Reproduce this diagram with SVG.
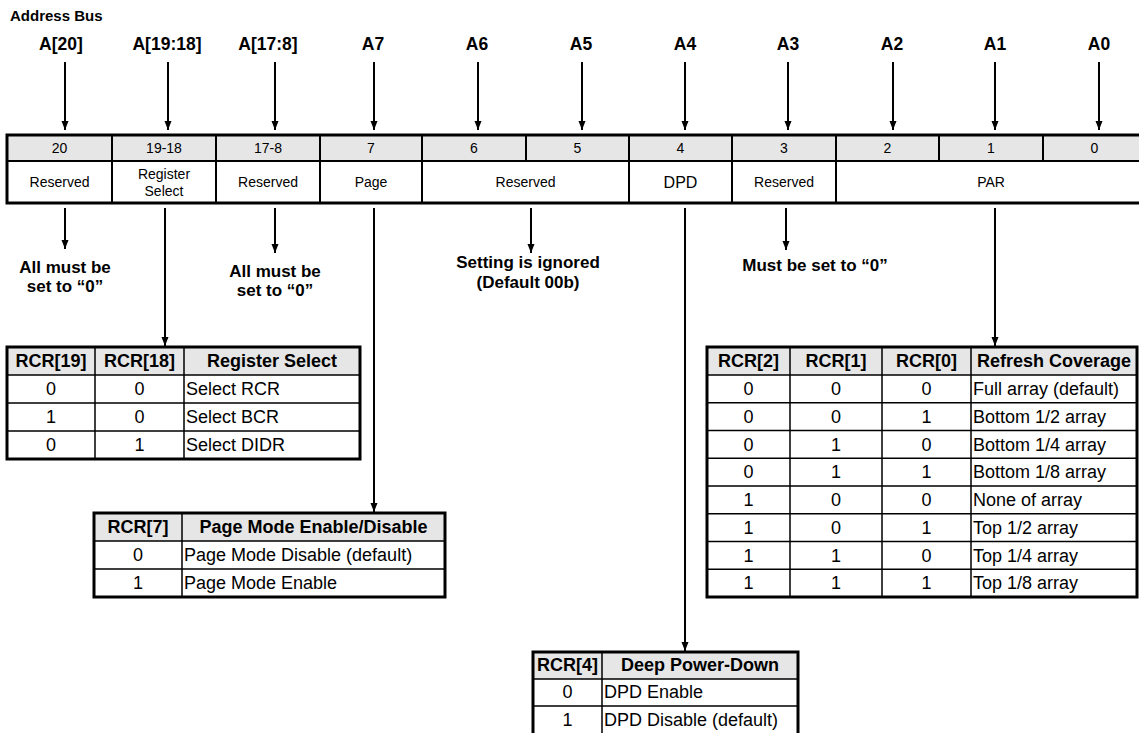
<svg xmlns="http://www.w3.org/2000/svg" width="1139" height="733" viewBox="0 0 1139 733">
<defs>
<marker id="ah" markerUnits="userSpaceOnUse" markerWidth="10" markerHeight="8" refX="9" refY="3.5" orient="auto">
<path d="M0,0 L9,3.5 L0,7 z" fill="#000"/>
</marker>
<style>
text{font-family:"Liberation Sans",Arial,sans-serif;fill:#000}
.lbl{font-size:17.5px;font-weight:bold;text-anchor:middle}
.title{font-size:15px;font-weight:bold}
.reg{font-size:14px;text-anchor:middle}
.note{font-size:17px;font-weight:bold;text-anchor:middle}
.th{font-size:18px;font-weight:bold;text-anchor:middle}
.td{font-size:18px;text-anchor:middle}
.tl{font-size:18px}
.hdr{fill:#e6e6e6}
.outer{fill:none;stroke:#000;stroke-width:3}
.inner{stroke:#000;stroke-width:1.5;fill:none}
.regl{stroke:#000;stroke-width:2;fill:none}
.arr{stroke:#000;stroke-width:2;fill:none;marker-end:url(#ah)}
</style>
</defs>
<rect width="1139" height="733" fill="#fff"/>

<g id="title"><text class="title" x="10" y="21">Address Bus</text></g>

<g id="bus-labels">
<text class="lbl" x="61" y="50">A[20]</text>
<text class="lbl" x="167" y="50">A[19:18]</text>
<text class="lbl" x="268" y="50">A[17:8]</text>
<text class="lbl" x="373" y="50">A7</text>
<text class="lbl" x="477" y="50">A6</text>
<text class="lbl" x="581" y="50">A5</text>
<text class="lbl" x="685" y="50">A4</text>
<text class="lbl" x="788" y="50">A3</text>
<text class="lbl" x="892" y="50">A2</text>
<text class="lbl" x="995" y="50">A1</text>
<text class="lbl" x="1099" y="50">A0</text>
</g>

<g id="register">
<rect class="hdr" x="7" y="135" width="1139" height="26"/>
<line class="regl" x1="7" y1="161" x2="1146" y2="161"/>
<path class="regl" d="M112,135V203 M216,135V203 M320,135V203 M422,135V203 M526,135V161 M629,135V203 M732,135V203 M836,135V203 M939,135V161 M1043,135V161"/>
<rect class="outer" x="7" y="135" width="1139" height="68"/>
<text class="reg" x="59.5" y="153">20</text>
<text class="reg" x="164" y="153">19-18</text>
<text class="reg" x="268" y="153">17-8</text>
<text class="reg" x="371" y="153">7</text>
<text class="reg" x="474" y="153">6</text>
<text class="reg" x="577.5" y="153">5</text>
<text class="reg" x="680.5" y="153">4</text>
<text class="reg" x="784" y="153">3</text>
<text class="reg" x="887.5" y="153">2</text>
<text class="reg" x="991" y="153">1</text>
<text class="reg" x="1094.5" y="153">0</text>
<text class="reg" x="59.5" y="187">Reserved</text>
<text class="reg" x="164" y="179">Register</text>
<text class="reg" x="164" y="196">Select</text>
<text class="reg" x="268" y="187">Reserved</text>
<text class="reg" x="371" y="187">Page</text>
<text class="reg" x="525.5" y="187">Reserved</text>
<text class="reg" x="680.5" y="188" style="font-size:16px">DPD</text>
<text class="reg" x="784" y="187">Reserved</text>
<text class="reg" x="991" y="187">PAR</text>
</g>

<g id="connectors">
<line class="arr" x1="65" y1="62" x2="65" y2="130"/>
<line class="arr" x1="168" y1="62" x2="168" y2="130"/>
<line class="arr" x1="275" y1="62" x2="275" y2="130"/>
<line class="arr" x1="374" y1="62" x2="374" y2="130"/>
<line class="arr" x1="478" y1="62" x2="478" y2="130"/>
<line class="arr" x1="582" y1="62" x2="582" y2="130"/>
<line class="arr" x1="685" y1="62" x2="685" y2="130"/>
<line class="arr" x1="788" y1="62" x2="788" y2="130"/>
<line class="arr" x1="893" y1="62" x2="893" y2="130"/>
<line class="arr" x1="995" y1="62" x2="995" y2="130"/>
<line class="arr" x1="1099" y1="62" x2="1099" y2="130"/>
<line class="arr" x1="65" y1="208" x2="65" y2="249"/>
<line class="arr" x1="165" y1="208" x2="165" y2="346"/>
<line class="arr" x1="275" y1="208" x2="275" y2="253"/>
<line class="arr" x1="374" y1="208" x2="374" y2="512"/>
<line class="arr" x1="531" y1="208" x2="531" y2="253"/>
<line class="arr" x1="685" y1="208" x2="685" y2="651"/>
<line class="arr" x1="786" y1="208" x2="786" y2="250"/>
<line class="arr" x1="995" y1="208" x2="995" y2="346"/>
</g>

<g id="note-a20">
<text class="note" x="65" y="273">All must be</text>
<text class="note" x="65" y="292">set to “0”</text>
</g>
<g id="note-a17-8">
<text class="note" x="275" y="277">All must be</text>
<text class="note" x="275" y="296">set to “0”</text>
</g>
<g id="note-a6-5">
<text class="note" x="528" y="268">Setting is ignored</text>
<text class="note" x="528" y="288">(Default 00b)</text>
</g>
<g id="note-a3">
<text class="note" x="815" y="271">Must be set to “0”</text>
</g>

<g id="table-register-select">
<rect class="hdr" x="7" y="347" width="353" height="28"/>
<path class="inner" d="M7,375H360 M7,403H360 M7,431H360 M95,347V459 M184,347V459"/>
<rect class="outer" x="7" y="347" width="353" height="112"/>
<text class="th" x="51" y="367">RCR[19]</text>
<text class="th" x="139.5" y="367">RCR[18]</text>
<text class="th" x="272" y="367">Register Select</text>
<text class="td" x="51" y="395">0</text><text class="td" x="139.5" y="395">0</text><text class="tl" x="186" y="395">Select RCR</text>
<text class="td" x="51" y="423">1</text><text class="td" x="139.5" y="423">0</text><text class="tl" x="186" y="423">Select BCR</text>
<text class="td" x="51" y="451">0</text><text class="td" x="139.5" y="451">1</text><text class="tl" x="186" y="451">Select DIDR</text>
</g>

<g id="table-page-mode">
<rect class="hdr" x="94" y="513" width="351" height="28"/>
<path class="inner" d="M94,541H445 M94,569H445 M182,513V597"/>
<rect class="outer" x="94" y="513" width="351" height="84"/>
<text class="th" x="138" y="533">RCR[7]</text>
<text class="th" x="313.5" y="533">Page Mode Enable/Disable</text>
<text class="td" x="138" y="561">0</text><text class="tl" x="184" y="561">Page Mode Disable (default)</text>
<text class="td" x="138" y="589">1</text><text class="tl" x="184" y="589">Page Mode Enable</text>
</g>

<g id="table-deep-power-down">
<rect class="hdr" x="533" y="652" width="265" height="27"/>
<path class="inner" d="M533,679H798 M533,706H798 M602,652V735"/>
<rect class="outer" x="533" y="652" width="265" height="83"/>
<text class="th" x="567.5" y="671">RCR[4]</text>
<text class="th" x="700" y="671">Deep Power-Down</text>
<text class="td" x="567.5" y="698">0</text><text class="tl" x="604" y="698">DPD Enable</text>
<text class="td" x="567.5" y="726">1</text><text class="tl" x="604" y="726">DPD Disable (default)</text>
</g>

<g id="table-refresh-coverage">
<rect class="hdr" x="707" y="347" width="430" height="28"/>
<path class="inner" d="M707,375H1137 M707,402.75H1137 M707,430.5H1137 M707,458.25H1137 M707,486H1137 M707,513.75H1137 M707,541.5H1137 M707,569.25H1137 M790,347V597 M882,347V597 M971,347V597"/>
<rect class="outer" x="707" y="347" width="430" height="250"/>
<text class="th" x="748.5" y="367">RCR[2]</text>
<text class="th" x="836" y="367">RCR[1]</text>
<text class="th" x="926.5" y="367">RCR[0]</text>
<text class="th" x="1054" y="367">Refresh Coverage</text>
<text class="td" x="748.5" y="395">0</text><text class="td" x="836" y="395">0</text><text class="td" x="926.5" y="395">0</text><text class="tl" x="973" y="395">Full array (default)</text>
<text class="td" x="748.5" y="422.75">0</text><text class="td" x="836" y="422.75">0</text><text class="td" x="926.5" y="422.75">1</text><text class="tl" x="973" y="422.75">Bottom 1/2 array</text>
<text class="td" x="748.5" y="450.5">0</text><text class="td" x="836" y="450.5">1</text><text class="td" x="926.5" y="450.5">0</text><text class="tl" x="973" y="450.5">Bottom 1/4 array</text>
<text class="td" x="748.5" y="478.25">0</text><text class="td" x="836" y="478.25">1</text><text class="td" x="926.5" y="478.25">1</text><text class="tl" x="973" y="478.25">Bottom 1/8 array</text>
<text class="td" x="748.5" y="506">1</text><text class="td" x="836" y="506">0</text><text class="td" x="926.5" y="506">0</text><text class="tl" x="973" y="506">None of array</text>
<text class="td" x="748.5" y="533.75">1</text><text class="td" x="836" y="533.75">0</text><text class="td" x="926.5" y="533.75">1</text><text class="tl" x="973" y="533.75">Top 1/2 array</text>
<text class="td" x="748.5" y="561.5">1</text><text class="td" x="836" y="561.5">1</text><text class="td" x="926.5" y="561.5">0</text><text class="tl" x="973" y="561.5">Top 1/4 array</text>
<text class="td" x="748.5" y="589.25">1</text><text class="td" x="836" y="589.25">1</text><text class="td" x="926.5" y="589.25">1</text><text class="tl" x="973" y="589.25">Top 1/8 array</text>
</g>
</svg>
